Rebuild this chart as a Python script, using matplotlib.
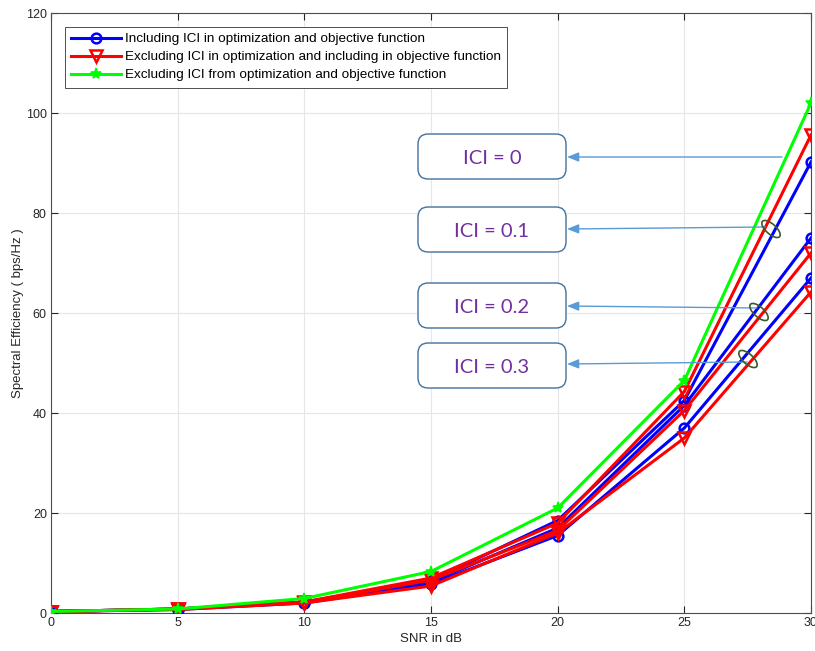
import matplotlib
matplotlib.use("Agg")
import matplotlib.pyplot as plt
from matplotlib.patches import FancyBboxPatch, Ellipse
from matplotlib.transforms import ScaledTranslation

plt.rcParams['font.family'] = ['Liberation Sans', 'DejaVu Sans']

# SNR axis
snr = [0, 5, 10, 15, 20, 25, 30]

# ICI = 0, excluding ICI from optimization and objective
se_excl_both = [0.3, 0.8, 2.9, 8.3, 21.0, 46.5, 102.0]

# including ICI in optimization and objective, ICI = 0.1 / 0.2 / 0.3
se_incl = {
    0.1: [0.3, 0.8, 2.2, 6.5, 18.5, 42.5, 90.2],
    0.2: [0.3, 0.8, 2.1, 6.2, 17.0, 41.5, 75.0],
    0.3: [0.3, 0.7, 2.0, 5.8, 15.5, 37.0, 67.0],
}
# excluding ICI in optimization, including in objective
se_excl_opt = {
    0.1: [0.3, 0.8, 2.2, 7.0, 18.0, 44.3, 95.6],
    0.2: [0.3, 0.8, 2.1, 6.6, 16.5, 40.5, 72.0],
    0.3: [0.3, 0.7, 2.0, 5.4, 16.0, 35.0, 64.2],
}

legend_labels = ["Including ICI in optimization and objective function",
                 "Excluding ICI in optimization and including in objective function",
                 "Excluding ICI from optimization and objective function"]

box_labels = ["ICI = 0", "ICI = 0.1", "ICI = 0.2", "ICI = 0.3"]

fig = plt.figure(figsize=(8.15, 6.51), dpi=100)
ax = fig.add_axes([51/815, 38/651, 760/815, 600/651])

for i, ici in enumerate([0.1, 0.2, 0.3]):
    ax.plot(snr, se_incl[ici], color='#0000ff', lw=2.2, marker='o', ms=7,
            mfc='none', mew=1.8, label=legend_labels[0] if i == 0 else None, zorder=3)
for i, ici in enumerate([0.1, 0.2, 0.3]):
    ax.plot(snr, se_excl_opt[ici], color='#ff0000', lw=2.2, marker='v', ms=8,
            mfc='none', mew=1.8, label=legend_labels[1] if i == 0 else None, zorder=3)
ax.plot(snr, se_excl_both, color='#00ff00', lw=2.2, marker='*', ms=8,
        mew=1.2, label=legend_labels[2], zorder=3)

ax.set_xlim(0, 30)
ax.set_ylim(0, 120)
ax.set_xticks(range(0, 31, 5))
ax.set_yticks(range(0, 121, 20))
ax.grid(True, color='#e6e6e6', lw=0.8)
ax.set_axisbelow(True)
ax.tick_params(direction='in', length=5, top=True, right=True, labelsize=9,
               colors='#262626', width=0.8, pad=3)
for s in ax.spines.values():
    s.set_color('#4d4d4d')
    s.set_linewidth(0.8)
ax.set_xlabel("SNR in dB", fontsize=9.5, color='#262626', labelpad=3)
ax.set_ylabel("Spectral Efficiency ( bps/Hz )", fontsize=9.5, color='#262626', labelpad=1)

leg = ax.legend(loc='upper left', bbox_to_anchor=(0.018, 0.977), fontsize=9.7,
                handlelength=3.7, handletextpad=0.35, borderpad=0.45, labelspacing=0.42,
                borderaxespad=0, fancybox=False, framealpha=1, edgecolor='#333333')
leg.get_frame().set_linewidth(0.6)

# annotation boxes (pixel geometry converted to data units)
def px2data(px, py):
    return (px - 51) / (760 / 30), (613 - py) / 5.0

box_tops = [134, 207, 283, 343]
arrow_from = [(782, 157), (765, 227), (757, 308), (747, 362)]
arrow_to_y = [157, 229, 306, 364]
for lab, top, (ax0, ay0), ty in zip(box_labels, box_tops, arrow_from, arrow_to_y):
    x0, y1 = px2data(418, top)
    x1, y0 = px2data(566, top + 45)
    box = FancyBboxPatch((x0, y0), x1 - x0, y1 - y0,
                         boxstyle="round,pad=0,rounding_size=0.4",
                         mutation_aspect=(760 / 30) / 5.0,
                         fc='white', ec='#41719c', lw=1.0, zorder=5)
    ax.add_patch(box)
    ax.text((x0 + x1) / 2, (y0 + y1) / 2 - 0.4, lab, fontsize=14.5, color='#7030a0',
            family='Lato', ha='center', va='center', zorder=6)
    ax.annotate('', xy=px2data(567, ty), xytext=px2data(ax0, ay0),
                arrowprops=dict(arrowstyle='-|>,head_length=0.7,head_width=0.28',
                                color='#5b9bd5', lw=1.0, shrinkA=0, shrinkB=0),
                zorder=6)

for ex, ey in [(771, 229), (759, 312), (748, 359)]:
    cx, cy = px2data(ex, ey)
    tr = fig.dpi_scale_trans + ScaledTranslation(cx, cy, ax.transData)
    ax.add_patch(Ellipse((0, 0), 0.23, 0.1, angle=-42, transform=tr,
                         fc='none', ec='#3a5a28', lw=1.2, zorder=6))

fig.savefig("out.png", dpi=100)
